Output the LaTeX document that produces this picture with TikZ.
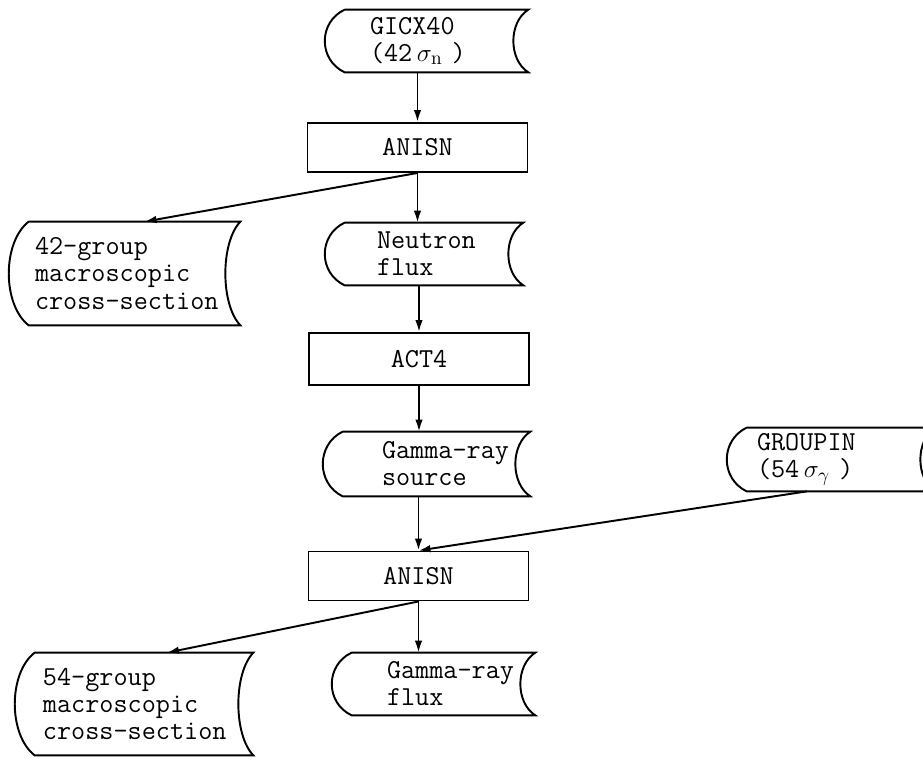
\documentclass[tikz,border=0pt]{standalone}
\usetikzlibrary{arrows.meta,positioning,calc}
\hyphenpenalty=10000
\exhyphenpenalty=10000

% outline of a stored-data box round a named node
\newcommand{\datashape}[1]{%
  \draw[line width=1.1pt] ([xshift=0.4cm]#1.north west) -- (#1.north east)
    .. controls ($(#1.north east)!0.2!(#1.south east)+(-0.4,0)$)
            and ($(#1.north east)!0.8!(#1.south east)+(-0.4,0)$) .. (#1.south east)
    -- ([xshift=0.4cm]#1.south west)
    .. controls ($(#1.south west)!0.2!(#1.north west)+(-0.13,0)$)
            and ($(#1.south west)!0.8!(#1.north west)+(-0.13,0)$) .. ([xshift=0.4cm]#1.north west);}

\begin{document}
\begin{tikzpicture}[every node/.style={font=\ttfamily\fontsize{15.6}{15.4}\selectfont}]
\tikzset{proc/.style={draw, line width=1.1pt, minimum width=4.4cm, minimum height=0.98cm, inner sep=0pt}}
\tikzset{store/.style={align=left, inner ysep=0pt, minimum height=1.24cm}}
\tikzset{flow/.style={line width=1.1pt, -{Latex[length=2.4mm,width=1.5mm]}}}
\useasboundingbox (0,0) rectangle (18.46,-15.16);
\node[store, text width=2.26cm, inner xsep=0.9cm] (gicx) at (8.53,-0.82) {GICX40\\\mbox{(42\,$\sigma_{\mathrm{n}}$\,\,)}};
\node[proc] (anisnA) at (8.35,-2.95) {ANISN};
\node[store, text width=1.88cm, inner xsep=1.04cm] (nflux) at (8.48,-5.08) {Neutron\\flux};
\node[store, text width=3.58cm, inner xsep=0.52cm, minimum height=2.06cm] (xsA) at (2.49,-5.47) {42-group\\macroscopic\\cross-section};
\node[proc, minimum height=1.04cm] (act) at (8.38,-7.18) {ACT4};
\node[store, text width=1.78cm, inner xsep=1.18cm, minimum height=1.28cm] (gsrc) at (8.53,-9.28) {Gamma-ray\\source};
\node[store, text width=2.96cm, inner xsep=0.6cm, minimum height=1.26cm] (grp) at (16.62,-9.19) {GROUPIN\\\mbox{(54\,$\sigma_{\gamma}$\,\,)}};
\node[proc] (anisnB) at (8.37,-11.52) {ANISN};
\node[store, text width=1.86cm, inner xsep=1.1cm] (gflux) at (8.67,-13.68) {Gamma-ray\\flux};
\node[store, text width=3.64cm, inner xsep=0.56cm, minimum height=2.04cm] (xsB) at (2.68,-14.08) {54-group\\macroscopic\\cross-section};
\datashape{gicx} \datashape{nflux} \datashape{xsA} \datashape{gsrc}
\datashape{grp} \datashape{gflux} \datashape{xsB}
\draw[flow] (anisnA.north |- gicx.south) -- (anisnA.north);
\draw[flow] (anisnA.south) -- (anisnA.south |- nflux.north);
\draw[flow] (anisnA.south) -- ([xshift=0.4cm]xsA.north);
\draw[flow] (nflux.south -| act.north) -- (act.north);
\draw[flow] (act.south) -- (act.south |- gsrc.north);
\draw[flow] (gsrc.south -| anisnB.north) -- (anisnB.north);
\draw[flow] ([xshift=-0.48cm]grp.south) -- (anisnB.north);
\draw[flow] (anisnB.south) -- (anisnB.south |- gflux.north);
\draw[flow] (anisnB.south) -- ([xshift=0.66cm]xsB.north);
\end{tikzpicture}
\end{document}
